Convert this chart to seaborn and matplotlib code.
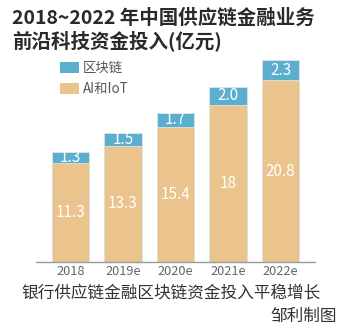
import matplotlib
matplotlib.use("Agg")
import matplotlib.pyplot as plt
import seaborn as sns
import pandas as pd
from matplotlib.patches import Patch

years = ["2018", "2019e", "2020e", "2021e", "2022e"]
ai_iot = [11.3, 13.3, 15.4, 18, 20.8]
blockchain = [1.3, 1.5, 1.7, 2.0, 2.3]
ai_labels = ["11.3", "13.3", "15.4", "18", "20.8"]
bc_labels = ["1.3", "1.5", "1.7", "2.0", "2.3"]

sns.set_theme(style="white")
plt.rcParams["font.family"] = ["Noto Sans CJK SC", "DejaVu Sans"]

BLUE = "#5AAFCF"
ORANGE = "#EAC48C"

df = pd.DataFrame({"year": years, "ai": ai_iot, "bc": blockchain})
df["total"] = df["ai"] + df["bc"]

fig = plt.figure(figsize=(3.5, 3.34), dpi=100)
ax = fig.add_axes([36 / 350, 72 / 334, 279 / 350, 218.5 / 334])

sns.barplot(data=df, x="year", y="total", color=BLUE, saturation=1, width=0.705,
            edgecolor="#e2e2e2", linewidth=0.6, ax=ax)
sns.barplot(data=df, x="year", y="ai", color=ORANGE, saturation=1, width=0.705,
            edgecolor="#e2e2e2", linewidth=0.6, ax=ax)

ax.set_xlim(-0.657, 4.657)
ax.set_ylim(0, 25)
ax.set_xlabel("")
ax.set_ylabel("")
ax.set_yticks([])
for s in ["top", "right", "left"]:
    ax.spines[s].set_visible(False)
ax.spines["bottom"].set_color("#9a9a9a")
ax.spines["bottom"].set_linewidth(1.0)
ax.tick_params(axis="x", length=0, pad=2.5, labelsize=9.2, labelcolor="#666666")

for i in range(len(years)):
    ax.text(i, ai_iot[i] / 2, ai_labels[i], ha="center", va="center",
            color="white", fontsize=11)
    ax.text(i, ai_iot[i] + blockchain[i] / 2, bc_labels[i], ha="center", va="center",
            color="white", fontsize=11)

handles = [Patch(facecolor=BLUE, edgecolor="none"), Patch(facecolor=ORANGE, edgecolor="none")]
fig.legend(handles, ["区块链", "AI和IoT"], loc="upper left",
           bbox_to_anchor=(60 / 350, 1 - 61 / 334), frameon=False, borderpad=0,
           borderaxespad=0, fontsize=9.6, labelcolor="#555555", handlelength=1.45,
           handleheight=0.95, handletextpad=0.25, labelspacing=0.55)

fig.text(12 / 350, 1 - 18 / 334, "2018~2022 年中国供应链金融业务", fontsize=14,
         fontweight="bold", color="#2a2a2a", va="center", ha="left")
fig.text(12 / 350, 1 - 41 / 334, "前沿科技资金投入(亿元)", fontsize=14,
         fontweight="bold", color="#2a2a2a", va="center", ha="left")
fig.text(21 / 350, 1 - 293 / 334, "银行供应链金融区块链资金投入平稳增长", fontsize=12,
         color="#333333", va="center", ha="left")
fig.text(337 / 350, 1 - 316 / 334, "邹利制图", fontsize=12,
         color="#333333", va="center", ha="right")

fig.savefig("out.png", dpi=100)
